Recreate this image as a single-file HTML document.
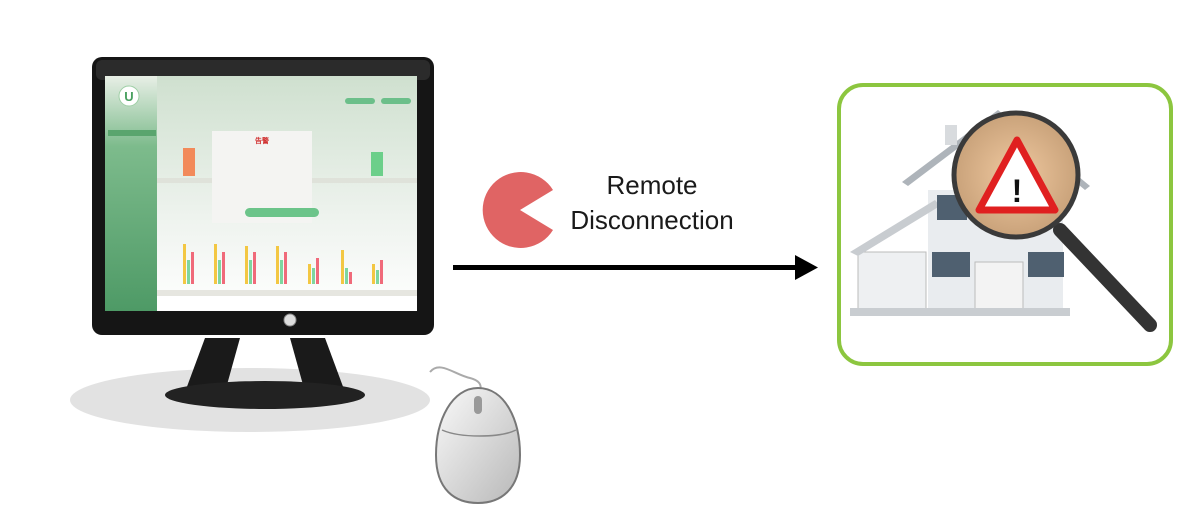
<!DOCTYPE html>
<html><head><meta charset="utf-8"><style>
html,body{margin:0;padding:0;background:#fff;width:1200px;height:532px;overflow:hidden}
svg text{font-family:"Liberation Sans",sans-serif}
</style></head><body>
<svg width="1200" height="532" viewBox="0 0 1200 532" xmlns="http://www.w3.org/2000/svg">
<defs>
<linearGradient id="scr" x1="0" y1="0" x2="0" y2="1"><stop offset="0" stop-color="#cfe0cf"/><stop offset="0.6" stop-color="#eef3ee"/><stop offset="1" stop-color="#ffffff"/></linearGradient>
<linearGradient id="side" x1="0" y1="0" x2="0" y2="1"><stop offset="0" stop-color="#e8efe6"/><stop offset="0.3" stop-color="#7dbb8c"/><stop offset="1" stop-color="#4e9a66"/></linearGradient>
<linearGradient id="mouse" x1="0" y1="0" x2="1" y2="1"><stop offset="0" stop-color="#fafafa"/><stop offset="1" stop-color="#b8b8b8"/></linearGradient>
<radialGradient id="lens" cx="0.5" cy="0.5" r="0.5"><stop offset="0" stop-color="#f0c9a0"/><stop offset="1" stop-color="#c9a27a"/></radialGradient>
</defs>
<!-- shadow -->
<ellipse cx="250" cy="400" rx="180" ry="32" fill="#e2e2e2"/>
<!-- stand -->
<polygon points="205,338 240,338 225,392 185,392" fill="#1a1a1a"/>
<polygon points="290,338 325,338 345,392 305,392" fill="#1a1a1a"/>
<ellipse cx="265" cy="395" rx="100" ry="14" fill="#222"/>
<!-- monitor -->
<rect x="92" y="57" width="342" height="278" rx="10" fill="#151515"/>
<rect x="96" y="60" width="334" height="20" rx="6" fill="#2b2b2b"/>
<rect x="105" y="76" width="312" height="235" fill="url(#scr)"/>
<rect x="105" y="76" width="52" height="235" fill="url(#side)"/>
<circle cx="129" cy="96" r="10" fill="#fff" stroke="#9fcfa6"/>
<text x="129" y="101" font-size="13" font-weight="bold" fill="#4aa060" text-anchor="middle">U</text>
<rect x="108" y="130" width="48" height="6" fill="#5aa56e"/>
<rect x="157" y="290" width="260" height="6" fill="#e6e6e0"/>
<rect x="157" y="296" width="260" height="15" fill="#fff"/>
<rect x="157" y="178" width="260" height="5" fill="#dfe2da"/>
<rect x="345" y="98" width="30" height="6" rx="3" fill="#6cbf8a"/>
<rect x="381" y="98" width="30" height="6" rx="3" fill="#6cbf8a"/>
<rect x="183" y="148" width="12" height="28" fill="#f28a5a"/>
<rect x="371" y="152" width="12" height="24" fill="#6ccf8a"/>
<rect x="212" y="131" width="100" height="92" fill="#f4f4f2"/>
<text x="262" y="143" font-size="7" fill="#d03030" text-anchor="middle" font-weight="bold">告警</text>
<rect x="245" y="208" width="74" height="9" rx="4.5" fill="#6cc48a"/>
<g fill="#f3c743"><rect x="183" y="244" width="3" height="40"/><rect x="214" y="244" width="3" height="40"/><rect x="245" y="246" width="3" height="38"/><rect x="276" y="246" width="3" height="38"/><rect x="308" y="264" width="3" height="20"/><rect x="341" y="250" width="3" height="34"/><rect x="372" y="264" width="3" height="20"/></g>
<g fill="#7fd6a0"><rect x="187" y="260" width="3" height="24"/><rect x="218" y="260" width="3" height="24"/><rect x="249" y="260" width="3" height="24"/><rect x="280" y="260" width="3" height="24"/><rect x="312" y="268" width="3" height="16"/><rect x="345" y="268" width="3" height="16"/><rect x="376" y="270" width="3" height="14"/></g>
<g fill="#f06a7a"><rect x="191" y="252" width="3" height="32"/><rect x="222" y="252" width="3" height="32"/><rect x="253" y="252" width="3" height="32"/><rect x="284" y="252" width="3" height="32"/><rect x="316" y="258" width="3" height="26"/><rect x="349" y="272" width="3" height="12"/><rect x="380" y="260" width="3" height="24"/></g>
<circle cx="290" cy="320" r="6" fill="#ddd" stroke="#888"/>
<!-- cable + mouse -->
<path d="M430 372 C440 360 455 375 470 378 C485 382 480 390 480 395" fill="none" stroke="#aaa" stroke-width="2"/>
<path d="M478 388 C505 388 520 420 520 455 C520 490 500 503 478 503 C455 503 436 490 436 455 C436 420 452 388 478 388Z" fill="url(#mouse)" stroke="#777" stroke-width="2"/>
<path d="M442 430 C460 438 500 438 516 430" fill="none" stroke="#888" stroke-width="1.5"/>
<rect x="474" y="396" width="8" height="18" rx="4" fill="#999"/>
<!-- pacman -->
<path d="M520 210 L553 190 A38 38 0 1 0 553 230 Z" fill="#e06464"/>
<text x="652" y="194" font-size="26" fill="#1a1a1a" text-anchor="middle">Remote</text>
<text x="652" y="229" font-size="26" fill="#1a1a1a" text-anchor="middle">Disconnection</text>
<!-- arrow -->
<rect x="453" y="265" width="345" height="5" fill="#000"/>
<polygon points="795,255 818,267.5 795,280" fill="#000"/>
<!-- box -->
<rect x="839" y="85" width="332" height="279" rx="24" fill="#fff" stroke="#8cc63f" stroke-width="4"/>
<!-- house -->
<rect x="858" y="252" width="68" height="62" fill="#eef0f2" stroke="#bbb"/>
<rect x="928" y="190" width="135" height="120" fill="#e9ecef"/>
<polygon points="850,252 935,200 940,206 858,256" fill="#c8ccd0"/>
<polygon points="902,182 998,110 1090,186 1085,190 998,118 908,186" fill="#aeb4ba"/>
<rect x="945" y="125" width="12" height="20" fill="#d8dbde"/>
<rect x="937" y="195" width="30" height="25" fill="#4f6070"/>
<rect x="932" y="252" width="38" height="25" fill="#4f6070"/>
<rect x="1028" y="252" width="36" height="25" fill="#4f6070"/>
<rect x="975" y="262" width="48" height="50" fill="#f3f3f3" stroke="#bbb"/>
<rect x="850" y="308" width="220" height="8" fill="#c9cdd1"/>
<!-- magnifier -->
<line x1="1060" y1="230" x2="1150" y2="325" stroke="#333" stroke-width="14" stroke-linecap="round"/>
<circle cx="1016" cy="175" r="62" fill="url(#lens)" stroke="#3a3a3a" stroke-width="5"/>
<polygon points="1017,140 1055,210 979,210" fill="#fff" stroke="#e02020" stroke-width="7" stroke-linejoin="round"/>
<text x="1017" y="202" font-size="32" font-weight="bold" fill="#111" text-anchor="middle">!</text>
</svg>
</body></html>
